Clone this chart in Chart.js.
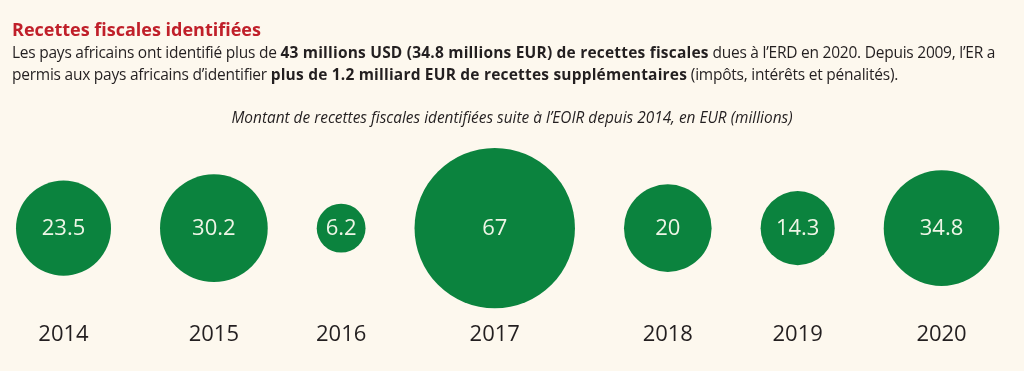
<!DOCTYPE html>
<html lang="fr">
<head>
<meta charset="utf-8">
<script src="https://cdn.jsdelivr.net/npm/chart.js@4.4.1/dist/chart.umd.min.js"></script>
<style>
  html, body { margin: 0; padding: 0; background: #fdf8ee; }
  #wrap { position: relative; width: 1024px; height: 371px; overflow: hidden; }
  #head { position: absolute; left: 12px; top: 18px; width: 1012px; font-family: "Open Sans", sans-serif; color: #231f20; }
  #head h1 { margin: 0; font-size: 18px; line-height: 22px; font-weight: 700; color: #c0202a; letter-spacing: 0; }
  #head p { margin: 1px 0 0; font-size: 15.5px; line-height: 22px; letter-spacing: -0.24px; white-space: nowrap; }
  #head b { font-weight: 700; letter-spacing: 0.2px; }
  canvas { position: absolute; left: 0; top: 0; }
</style>
</head>
<body>
<div id="wrap">
  <canvas id="bubbleChart" width="1024" height="371"></canvas>
  <div id="head">
    <h1>Recettes fiscales identifiées</h1>
    <p>Les pays africains ont identifié plus de <b>43 millions USD (34.8 millions EUR) de recettes fiscales</b> dues à l’ERD en 2020. Depuis 2009, l’ER a<br>permis aux pays africains d’identifier <b>plus de 1.2 milliard EUR de recettes supplémentaires</b> (impôts, intérêts et pénalités).</p>
  </div>
</div>
<script>
const years = ['2014', '2015', '2016', '2017', '2018', '2019', '2020'];
const amounts = [23.5, 30.2, 6.2, 67, 20, 14.3, 34.8];

// bubble area proportional to the amount, circles packed left to right
const radiusScale = 9.8;
const gap = 49;
const leftEdge = 16;

const radii = amounts.map(v => radiusScale * Math.sqrt(v));
const centers = [];
radii.forEach((r, i) => {
  if (i === 0) centers.push(leftEdge + r);
  else centers.push(centers[i - 1] + radii[i - 1] + gap + r);
});
// bubble charts inset the plot area by the largest radius; this keeps 1 unit = 1 px on x
const maxR = Math.max(...radii);

const valueLabels = {
  id: 'valueLabels',
  afterDatasetsDraw(chart) {
    const ctx = chart.ctx;
    const meta = chart.getDatasetMeta(0);
    ctx.save();
    ctx.fillStyle = '#eef5e6';
    ctx.font = '22px "Open Sans", sans-serif';
    ctx.textAlign = 'center';
    ctx.textBaseline = 'middle';
    meta.data.forEach((el, i) => {
      ctx.fillText(String(amounts[i]), el.x, el.y + 1);
    });
    ctx.restore();
  }
};

const ctx = document.getElementById('bubbleChart').getContext('2d');
new Chart(ctx, {
  type: 'bubble',
  data: {
    datasets: [{
      data: amounts.map((v, i) => ({ x: centers[i], y: 0.5, r: radii[i] })),
      backgroundColor: '#0b833e',
      borderWidth: 0,
      hoverBorderWidth: 0,
      clip: false
    }]
  },
  options: {
    responsive: false,
    animation: false,
    layout: { padding: { top: 109, left: 0, right: 0, bottom: 3 } },
    scales: {
      x: {
        type: 'linear',
        min: maxR,
        max: 1024 - maxR,
        grid: { display: false },
        border: { display: false },
        afterBuildTicks: scale => {
          scale.ticks = centers.map(c => ({ value: c }));
        },
        afterFit: scale => {
          scale.height = 70;
        },
        ticks: {
          autoSkip: false,
          maxRotation: 0,
          padding: 23,
          color: '#231f20',
          font: { family: '"Open Sans", sans-serif', size: 22 },
          callback: (value, index) => years[index]
        }
      },
      y: { display: false, min: 0, max: 1 }
    },
    plugins: {
      legend: { display: false },
      tooltip: { enabled: false },
      title: {
        display: true,
        text: 'Montant de recettes fiscales identifiées suite à l’EOIR depuis 2014, en EUR (millions)',
        color: '#231f20',
        font: { family: '"Open Sans", sans-serif', size: 15.4, style: 'italic', weight: 'normal' },
        padding: { top: 0, bottom: 38 }
      }
    }
  },
  plugins: [valueLabels]
});
</script>
</body>
</html>
